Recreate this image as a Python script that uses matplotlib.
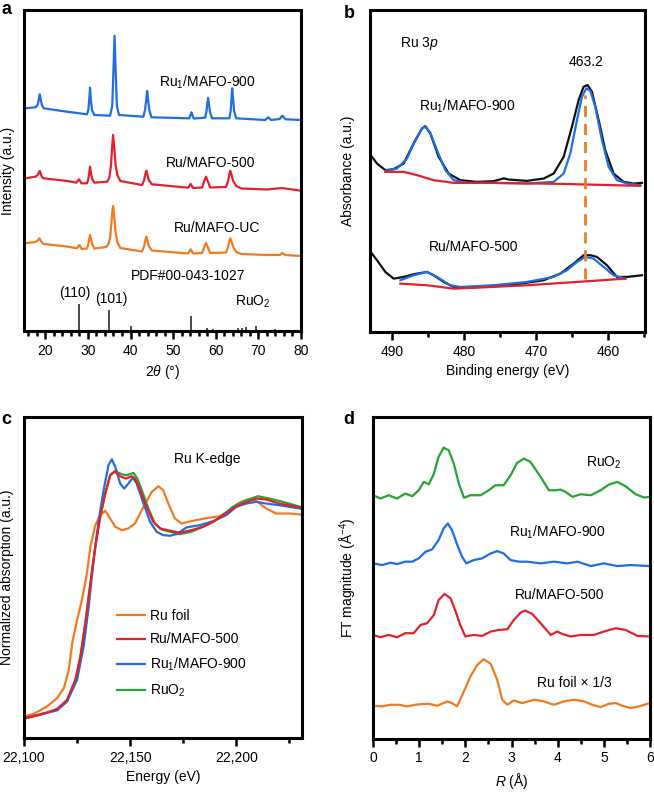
import matplotlib
matplotlib.use("Agg")
import matplotlib.pyplot as plt
import numpy as np

plt.rcParams['font.family'] = ['Liberation Sans', 'DejaVu Sans']
plt.rcParams['mathtext.fontset'] = 'custom'
plt.rcParams['mathtext.rm'] = 'Liberation Sans'
plt.rcParams['mathtext.it'] = 'Liberation Sans:italic'
plt.rcParams['mathtext.bf'] = 'Liberation Sans:bold'
plt.rcParams['font.size'] = 10

BLUE = '#1d6fe3'
RED = '#e5202a'
ORANGE = '#f37b1f'
GREEN = '#26a532'

# ---------------- Panel a: XRD ----------------
xrd_900_x = [15.3, 17.7, 18.2, 18.45, 18.7, 18.95, 19.2, 19.6, 25.1, 29.8, 30.1, 30.3, 30.5, 30.7, 30.95, 31.5, 35.2,
             35.7, 35.95, 36.25, 36.55, 36.8, 37.3, 43.0, 43.4, 43.65, 43.9, 44.15, 44.4, 44.9, 53.8, 54.3, 54.8,
             57.5, 57.8, 58.0, 58.2, 58.4, 58.65, 59.1, 63.2, 63.5, 63.7, 63.85, 64.05, 64.3, 64.8, 71.6, 72.3, 73.0,
             75.0, 75.6, 76.4, 80.0]
xrd_900_y = [222.7, 223.7, 226, 231, 236.7, 231, 226, 222.7, 219.3, 216.7, 221, 231, 243.3, 231, 221, 216, 215.3,
             225, 255, 295.3, 255, 225, 216, 214.3, 221, 230, 240, 230, 221, 213.7, 212.7, 218.7, 212.5,
             213.3, 219, 227, 233, 227, 219, 212.7, 212.7, 220, 233, 242.7, 233, 220, 212.7, 211, 213.7, 211,
             212, 215.3, 211.7, 211]

xrd_500_x = [15.3, 17.7, 18.2, 18.7, 19.2, 19.6, 25.1, 27.3, 27.9, 28.5, 29.8, 30.1, 30.3, 30.5, 30.7, 31.0, 31.5,
             34.5, 35.0, 35.4, 35.65, 35.9, 36.2, 36.5, 36.9, 37.6, 42.7, 43.2, 43.45, 43.7, 43.95, 44.3, 45.0, 53.5,
             54.1, 54.7, 56.8, 57.3, 57.7, 58.1, 58.7, 62.4, 62.9, 63.15, 63.4, 63.7, 64.1, 64.8, 66.0, 72.0, 75.5,
             80.0]
xrd_500_y = [152.7, 154.3, 156, 160, 154, 152.7, 150, 148.3, 151.7, 147.7, 147.7, 152, 158, 164.3, 158, 152, 148.3,
             149.3, 153, 165, 182, 196, 182, 166, 156, 150, 146, 151, 156.5, 160.3, 156.5, 151, 146.7, 143.3,
             147, 143, 143.5, 150, 154.3, 150, 143.5, 144, 150, 156, 160.3, 156, 150, 145, 142.5, 141.5, 143,
             140.3]

xrd_uc_x = [15.3, 17.7, 18.2, 18.6, 19.1, 19.6, 25.1, 27.4, 28.0, 28.5, 29.8, 30.1, 30.3, 30.5, 30.7, 31.0, 31.5,
            34.3, 34.8, 35.2, 35.45, 35.7, 35.9, 36.15, 36.45, 36.9, 37.6, 42.7, 43.2, 43.45, 43.7, 43.95, 44.3,
            45.0, 53.5, 54.1, 54.7, 56.8, 57.3, 57.7, 58.1, 58.7, 62.4, 62.9, 63.15, 63.4, 63.7, 64.1, 64.8, 66.0,
            72.0, 75.0, 75.6, 76.3, 80.0]
xrd_uc_y = [87.7, 89, 90.5, 92.7, 89, 87, 84.5, 82.7, 86, 82, 82.5, 87, 92, 96, 92, 87, 82.5,
            84, 87, 93, 105, 118, 125, 116, 100, 89, 83, 79.5, 85, 90.5, 94.3, 90.5, 85,
            80.5, 77.5, 81.7, 77.5, 78, 84, 88.3, 84, 78, 78.5, 84, 89.5, 92.7, 89.5, 84, 79, 77,
            76, 76, 78, 76, 75]

ref_pos = [27.9, 35.0, 40.0, 54.2, 57.9, 59.4, 65.3, 66.1, 67.0, 69.4, 74.0]
ref_height = [27.5, 20.7, 5.5, 14.7, 3.5, 2.0, 3.0, 3.0, 4.0, 4.7, 2.0]

# ---------------- Panel b: XPS Ru 3p ----------------
xps900_raw_x = [492.82, 492.13, 490.97, 489.81, 488.43, 487.04, 485.88, 485.42, 484.72, 483.56, 482.18, 480.56, 478.24,
                475.93, 474.5, 473.84, 471.30, 468.98, 467.59, 466.20, 465.05, 464.12, 463.43, 462.87, 462.27, 461.34,
                460.42, 459.26, 457.87, 456.48, 455.32]
xps900_raw_y = [175, 168.3, 161.7, 162.7, 168.3, 188.3, 203.3, 205.7, 198.3, 175, 158.3, 151.7, 150,
                150.7, 153.5, 152.3, 151, 153.3, 158.3, 175, 205, 231.7, 245, 246.7, 240, 211.7,
                181.7, 158.3, 150, 148.3, 149]
xps900_fit_x = [490.97, 489.35, 487.96, 486.81, 485.88, 485.42, 484.72, 483.80, 482.64, 481.48, 479.63, 475.93, 471.30,
                467.59, 466.20, 465.28, 464.35, 463.66, 463.06, 462.50, 461.81, 460.88, 459.95, 458.80, 457.41, 455.56]
xps900_fit_y = [161, 163.3, 173.3, 191.7, 203.3, 205, 199, 181.7, 161.7, 151.7, 149, 149, 148.3,
                150, 158.3, 178.3, 211.7, 235, 243.3, 241, 225, 191.7, 165, 151.7, 148.3, 146.7]
xps900_bg_x = [490.97, 488.43, 486.57, 484.26, 481.48, 475.93, 466.67, 455.56]
xps900_bg_y = [160, 160, 156.7, 151.7, 149, 149, 148, 146]

xps500_raw_x = [492.82, 492.13, 490.97, 489.81, 488.43, 487.04, 485.19, 484.26, 482.87, 481.48, 479.63, 476.85, 475.0,
                472.22, 468.98, 466.67, 464.81, 463.43, 462.50, 461.57, 460.19, 458.80, 457.41, 455.32]
xps500_raw_y = [78.3, 71.7, 60, 53.3, 55, 57.7, 60, 56.7, 50, 45, 44.3, 45.7, 46.7,
                48.3, 51.7, 58.3, 68.3, 76.7, 76.7, 75, 66.7, 55, 55, 56.7]
xps500_fit_x = [488.89, 487.04, 485.19, 483.80, 481.94, 480.56, 475.93, 471.30, 467.59, 465.74, 464.35, 463.19, 462.04,
                460.65, 459.26, 457.64]
xps500_fit_y = [51.7, 56.7, 60, 55, 46.7, 45, 46.7, 50, 55, 61.7, 70, 75, 73.3, 65, 56.7, 53.3]
xps500_bg_x = [488.89, 485.19, 481.48, 478.24, 471.30, 464.35, 457.64]
xps500_bg_y = [48.3, 46.7, 43.3, 44.3, 46.7, 50, 53.3]

peak_ev = 463.2
peak_line_y = [53.3, 236.7]

# ---------------- Panel c: XANES ----------------
xanes_foil_x = [22100.3, 22104.7, 22110.9, 22115.6, 22118.8, 22121.1, 22122.7, 22125.0, 22127.3, 22129.4, 22131.3,
                22133.6, 22135.9, 22138.3, 22140.6, 22143.0, 22146.1, 22149.2, 22152.3, 22156.3, 22160.2, 22163.3,
                22165.6, 22168.0, 22171.1, 22174.2, 22179.7, 22185.9, 22192.2, 22196.9, 22200.8, 22205.5, 22209.4,
                22214.1, 22218.8, 22225.0, 22230.2]
xanes_foil_y = [21.7, 24.3, 31.7, 40, 50, 68.3, 95, 118.3, 138.3, 161.7, 191.7,
                213.3, 223.3, 227.7, 220, 211.7, 208.3, 210, 215, 231.7, 246.7, 252.3,
                248.3, 235, 220, 215, 217.7, 220.3, 222.3, 228.3, 235, 239, 237.7,
                230, 225, 225, 224]
xanes_500_x = [22100.3, 22107.8, 22115.6, 22120.3, 22124.2, 22126.6, 22128.9, 22131.3, 22133.6, 22135.9, 22138.3,
               22140.6, 22142.7, 22145.3, 22148.1, 22150.8, 22152.3, 22154.7, 22157.8, 22160.9, 22164.1, 22168.8,
               22173.4, 22178.9, 22184.4, 22189.1, 22193.8, 22198.4, 22203.1, 22209.4, 22214.1, 22220.3, 22230.2]
xanes_500_y = [20, 23.3, 29, 38.3, 58.3, 81.7, 115, 155, 191.7, 221.7, 245,
               263.3, 267.3, 262.3, 260, 262.3, 260, 248.3, 231.7, 216.7, 210, 207.7,
               205.7, 208.3, 211.7, 216.7, 223.3, 230, 235, 240, 239, 235, 231]
xanes_900_x = [22100.3, 22115.6, 22120.3, 22125.0, 22128.1, 22130.5, 22132.8, 22135.2, 22137.5, 22139.8, 22141.4,
               22143.0, 22145.3, 22147.2, 22149.2, 22151.3, 22153.1, 22156.3, 22159.4, 22162.5, 22165.6, 22168.8,
               22171.9, 22176.6, 22182.8, 22189.1, 22195.3, 22200.0, 22204.7, 22209.4, 22214.1, 22220.3, 22225.0,
               22230.2]
xanes_900_y = [20, 27.7, 36.7, 58.3, 91.7, 131.7, 178.3, 218.3, 248.3, 273.3, 279.3,
               271.7, 255, 250, 255, 261, 255, 235, 216.7, 206.7, 203.3, 202.7,
               204.3, 211, 213.3, 217.3, 223.3, 231.7, 235, 236.7, 235, 233.3, 231.7, 230]
xanes_ruo2_x = [22100.3, 22115.6, 22120.3, 22124.2, 22126.6, 22128.9, 22131.3, 22133.6, 22135.9, 22138.3, 22140.6,
                22143.0, 22146.1, 22148.4, 22151.6, 22153.4, 22155.5, 22158.6, 22161.7, 22164.8, 22168.8, 22173.4,
                22178.9, 22184.4, 22189.1, 22193.8, 22198.4, 22203.9, 22210.2, 22215.6, 22221.9, 22230.2]
xanes_ruo2_y = [19.3, 28.3, 36.7, 57.7, 81.7, 115, 155, 191.7, 221.7, 245, 263.3,
                267.3, 264.3, 263.3, 265.7, 260, 248.3, 230, 215, 209, 206.7, 204.3,
                206.7, 211.7, 216.7, 223.3, 231.7, 237.7, 242.3, 240, 236.7, 231.7]

# ---------------- Panel d: EXAFS FT ----------------
ft_ruo2_r = [0, 0.16, 0.34, 0.52, 0.70, 0.85, 0.99, 1.10, 1.21, 1.32, 1.42, 1.53, 1.64, 1.75, 1.86, 1.97, 2.11, 2.33,
             2.51, 2.65, 2.83, 2.98, 3.12, 3.27, 3.41, 3.63, 3.81, 3.96, 4.06, 4.17, 4.32, 4.50, 4.72, 4.93, 5.11,
             5.29, 5.47, 5.69, 5.87, 6.0]
ft_ruo2_y = [244.3, 241, 244.3, 241, 246, 243.3, 249.3, 257.7, 255.3, 266, 282.7, 292, 289.3, 276, 256, 241.7, 244.3,
             244.3, 249.3, 254.3, 254.3, 264.3, 276.7, 281, 277.7, 262.7, 249.3, 249.3, 250, 247.7, 242.7, 245.3,
             244.3, 249.3, 255, 257.7, 253.3, 245.3, 242, 242.7]
ft_900_r = [0, 0.20, 0.38, 0.52, 0.70, 0.85, 0.99, 1.14, 1.28, 1.42, 1.53, 1.62, 1.71, 1.84, 1.93, 2.02, 2.18, 2.36,
            2.55, 2.69, 2.83, 2.98, 3.16, 3.34, 3.63, 3.92, 4.21, 4.43, 4.72, 5.00, 5.29, 5.58, 6.0]
ft_900_y = [176, 174.3, 176.7, 175.3, 177.7, 177.7, 181, 187.7, 190, 199.3, 211, 216, 209.3, 192.7, 182.7, 176, 179.3,
            181, 186, 188.3, 186, 179.3, 177.7, 177.7, 176, 177.7, 176, 177.7, 173.3, 176, 173.3, 174.3, 173.3]
ft_500_r = [0, 0.16, 0.34, 0.52, 0.70, 0.88, 1.03, 1.17, 1.32, 1.42, 1.55, 1.68, 1.79, 1.89, 2.0, 2.18, 2.36, 2.55,
            2.73, 2.91, 3.05, 3.20, 3.30, 3.45, 3.63, 3.85, 3.99, 4.10, 4.28, 4.50, 4.79, 5.00, 5.26, 5.47, 5.73, 6.0]
ft_500_y = [104.3, 102, 104.3, 102, 106, 106, 114.3, 116, 124.3, 139.3, 145.3, 141, 127.7, 114.3, 102.7, 104.3, 103.3,
            107.7, 109.3, 110, 119.3, 126.7, 128.7, 125.3, 116, 104.3, 107.7, 105.3, 102.7, 104.3, 104.3, 107.7, 111,
            109.3, 103.3, 102.7]
ft_foil_r = [0, 0.20, 0.38, 0.56, 0.74, 0.92, 1.06, 1.21, 1.39, 1.61, 1.71, 1.82, 1.97, 2.11, 2.26, 2.40, 2.55, 2.69,
             2.80, 2.91, 3.05, 3.23, 3.49, 3.70, 3.92, 4.14, 4.35, 4.57, 4.75, 4.93, 5.11, 5.26, 5.40, 5.58, 5.76, 6.0]
ft_foil_y = [33.3, 32.7, 34.3, 34.3, 32.7, 34.3, 35, 35.3, 33.3, 37.7, 36, 32.7, 47.7, 62.7, 74.3, 80, 75.3, 59.3,
             39.3, 34.3, 38.7, 36, 39.3, 37.7, 34.3, 37.7, 39.3, 37.7, 34.3, 32, 35.3, 36, 33.3, 31, 32.7, 36]

# ---------------- Figure ----------------
W, H = 654, 794
fig = plt.figure(figsize=(W / 100, H / 100), dpi=100)


def box(l, t, r, b):
    return [l / W, 1 - b / H, (r - l) / W, (b - t) / H]


def fxy(x, y):
    return (x / W, 1 - y / H)


axa = fig.add_axes(box(24, 10, 301, 331))
axb = fig.add_axes(box(370, 10, 645, 332))
axc = fig.add_axes(box(24, 417, 302, 738))
axd = fig.add_axes(box(373, 417, 650, 739))

LW = 1.6
for ax in (axa, axb, axc, axd):
    for s in ax.spines.values():
        s.set_linewidth(2.2)
    ax.set_yticks([])
    ax.tick_params(axis='x', which='major', direction='out', length=6, width=1.8, labelsize=10, pad=3)
    ax.tick_params(axis='x', which='minor', direction='out', length=3.5, width=1.8)

# Panel a
axa.plot(xrd_900_x, xrd_900_y, color=BLUE, lw=LW)
axa.plot(xrd_500_x, xrd_500_y, color=RED, lw=LW)
axa.plot(xrd_uc_x, xrd_uc_y, color=ORANGE, lw=LW)
axa.vlines(ref_pos, 0, ref_height, color='#4a4a4a', lw=1.4)
axa.set_xlim(15, 80)
axa.set_ylim(0, 321)
axa.set_xticks(np.arange(20, 81, 10))
axa.set_xticks(np.arange(16, 80, 2), minor=True)
axa.set_xlabel(r'2$\it{\theta}$ (°)', labelpad=4)
axa.set_ylabel('Intensity (a.u.)')
axa.yaxis.set_label_coords(-0.034, 0.5)

fig.text(*fxy(207, 82), r'Ru$_1$/MAFO-900', ha='center', va='center')
fig.text(*fxy(211, 163), 'Ru/MAFO-500', ha='center', va='center')
fig.text(*fxy(217, 228), 'Ru/MAFO-UC', ha='center', va='center')
fig.text(*fxy(188, 276), 'PDF#00-043-1027', ha='center', va='center')
fig.text(*fxy(75, 293), '(110)', ha='center', va='center')
fig.text(*fxy(111, 299), '(101)', ha='center', va='center')
fig.text(*fxy(253, 302), r'RuO$_2$', ha='center', va='center')

# Panel b
axb.plot(xps900_raw_x, xps900_raw_y, color='#111111', lw=LW)
axb.plot(xps900_fit_x, xps900_fit_y, color=BLUE, lw=LW)
axb.plot(xps900_bg_x, xps900_bg_y, color=RED, lw=LW)
axb.plot(xps500_raw_x, xps500_raw_y, color='#111111', lw=LW)
axb.plot(xps500_fit_x, xps500_fit_y, color=BLUE, lw=LW)
axb.plot(xps500_bg_x, xps500_bg_y, color=RED, lw=LW)
axb.plot([peak_ev, peak_ev], peak_line_y, color=ORANGE, lw=2.0, ls=(0, (4, 2.5)))
axb.set_xlim(493.1, 454.9)
axb.set_ylim(0, 321.7)
axb.set_xticks([490, 480, 470, 460])
axb.set_xticks([485, 475, 465, 455], minor=True)
axb.set_xlabel('Binding energy (eV)', labelpad=4)
axb.set_ylabel('Absorbance (a.u.)')
axb.yaxis.set_label_coords(-0.054, 0.5)

fig.text(*fxy(586, 62), f'{peak_ev}', ha='center', va='center')
fig.text(*fxy(419, 43), r'Ru 3$\it{p}$', ha='center', va='center')
fig.text(*fxy(467, 106), r'Ru$_1$/MAFO-900', ha='center', va='center')
fig.text(*fxy(474, 247), 'Ru/MAFO-500', ha='center', va='center')

# Panel c
axc.plot(xanes_foil_x, xanes_foil_y, color=ORANGE, lw=LW, label='Ru foil')
axc.plot(xanes_ruo2_x, xanes_ruo2_y, color=GREEN, lw=LW, label=r'RuO$_2$')
axc.plot(xanes_900_x, xanes_900_y, color=BLUE, lw=LW, label=r'Ru$_1$/MAFO-900')
axc.plot(xanes_500_x, xanes_500_y, color=RED, lw=LW, label='Ru/MAFO-500')
axc.set_xlim(22100, 22231)
axc.set_ylim(0, 321.7)
axc.set_xticks([22100, 22150, 22200])
axc.set_xticklabels(['22,100', '22,150', '22,200'])
axc.set_xticks([22125, 22175, 22225], minor=True)
axc.set_xlabel('Energy (eV)', labelpad=4)
axc.set_ylabel('Normalized absorption (a.u.)')
axc.yaxis.set_label_coords(-0.036, 0.5)
h, l = axc.get_legend_handles_labels()
order = [0, 3, 2, 1]
axc.legend([h[i] for i in order], [l[i] for i in order], loc='upper left', frameon=False,
           bbox_to_anchor=fxy(117, 609), bbox_transform=fig.transFigure, borderpad=0, borderaxespad=0,
           handlelength=2.0, handletextpad=0.35, labelspacing=0.68, fontsize=10)
fig.text(*fxy(207, 459), 'Ru K-edge', ha='center', va='center')

# Panel d
axd.plot(ft_ruo2_r, ft_ruo2_y, color=GREEN, lw=LW)
axd.plot(ft_900_r, ft_900_y, color=BLUE, lw=LW)
axd.plot(ft_500_r, ft_500_y, color=RED, lw=LW)
axd.plot(ft_foil_r, ft_foil_y, color=ORANGE, lw=LW)
axd.set_xlim(0, 6)
axd.set_ylim(0, 322.7)
axd.set_xticks(np.arange(0, 7, 1))
axd.set_xticks(np.arange(0.5, 6, 1), minor=True)
axd.set_xlabel(r'$\it{R}$ (Å)', labelpad=4)
axd.set_ylabel(r'FT magnitude (Å$^{-4}$)')
axd.yaxis.set_label_coords(-0.052, 0.5)

fig.text(*fxy(604, 463), r'RuO$_2$', ha='center', va='center')
fig.text(*fxy(557, 532), r'Ru$_1$/MAFO-900', ha='center', va='center')
fig.text(*fxy(560, 595), 'Ru/MAFO-500', ha='center', va='center')
fig.text(*fxy(574, 683), 'Ru foil × 1/3', ha='center', va='center')

# Panel letters
for x, y, s in [(6, 10, 'a'), (349, 13, 'b'), (6, 420, 'c'), (349, 420, 'd')]:
    fig.text(*fxy(x, y), s, ha='center', va='center', fontsize=13, fontweight='bold')

fig.savefig('out.png', dpi=100)
